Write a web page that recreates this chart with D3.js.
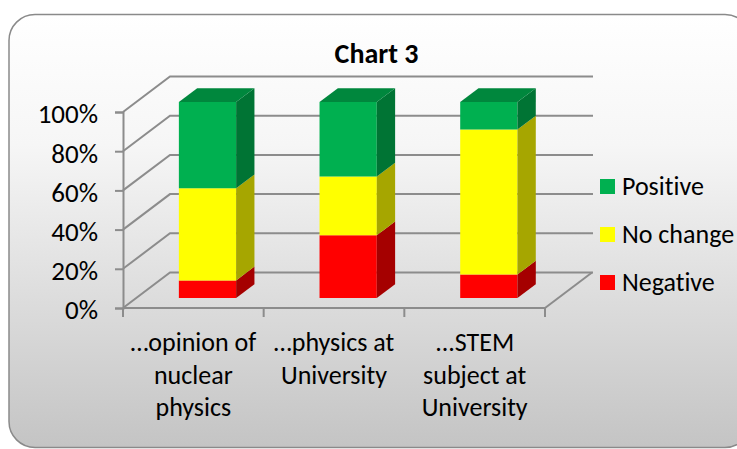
<!DOCTYPE html>
<html><head><meta charset="utf-8">
<script src="https://cdn.jsdelivr.net/npm/d3@7"></script>
<style>
html,body{margin:0;padding:0;background:#fff;}
svg{display:block;}
text{font-family:Carlito,Calibri,Lato,"Open Sans",sans-serif;fill:#000;font-variant-ligatures:none;font-feature-settings:"liga" 0,"clig" 0,"dlig" 0;}
</style></head>
<body><svg id="c" width="737" height="449"></svg>
<script>
const title = "Chart 3";
const categories = [["…opinion of","nuclear","physics"],["…physics at","University"],["...STEM","subject at","University"]];
const seriesNames = ["Negative","No change","Positive"];
const negative = [9, 32, 12];
const noChange = [47, 30, 74];
const positive = [44, 38, 14];
const yTicks = [0, 20, 40, 60, 80, 100];

const frontColors = ["#FF0000","#FFFF00","#00B050"];
const sideColors  = ["#A50000","#A6A600","#007434"];
const topColors   = ["#C00000","#C8C800","#00873D"];

const svg = d3.select("#c");
const defs = svg.append("defs");
const grad = defs.append("linearGradient").attr("id","bg").attr("x1",0).attr("y1",0).attr("x2",0).attr("y2",1);
grad.append("stop").attr("offset","0%").attr("stop-color","#ffffff");
grad.append("stop").attr("offset","30%").attr("stop-color","#f6f6f6");
grad.append("stop").attr("offset","100%").attr("stop-color","#c4c4c4");

svg.append("rect").attr("x",9).attr("y",14.5).attr("width",742).attr("height",433)
  .attr("rx",26).attr("fill","url(#bg)").attr("stroke","#8a8a8a").attr("stroke-width",1.5);

// geometry
const DX = 47, DY = -35.5;
const x = d3.scaleBand().domain(d3.range(categories.length)).range([123,545]).paddingInner(0.593).paddingOuter(0.2965);
const xb = d3.scaleBand().domain(d3.range(categories.length)).range([123,545]);
const y = d3.scaleLinear().domain([0,100]).range([308,112]);
const gridC = "#8c8c8c";

// walls gridlines
const g = svg.append("g");
yTicks.forEach(t => {
  g.append("path").attr("d", `M${123},${y(t)} L${123+DX},${y(t)+DY} L${545+DX+1},${y(t)+DY}`)
    .attr("fill","none").attr("stroke",gridC).attr("stroke-width",2);
});
g.append("path").attr("d",`M545,${y(0)} L${545+DX},${y(0)+DY}`).attr("fill","none").attr("stroke",gridC).attr("stroke-width",2);

// bars
const F1 = 0.28, F2 = 0.67;
const stacks = [negative, noChange, positive];
categories.forEach((c,i) => {
  let base = 0;
  const xl = x(i) + F1*DX + 1, xr = xl + x.bandwidth();
  const sx = (F2-F1)*DX, sy = (F2-F1)*DY;
  stacks.forEach((s,k) => {
    const v0 = base, v1 = base + s[i];
    base = v1;
    const y0 = y(v0) + F1*DY, y1 = y(v1) + F1*DY;
    g.append("path").attr("d",`M${xl},${y0} L${xr},${y0} L${xr},${y1} L${xl},${y1} Z`).attr("fill",frontColors[k]);
    g.append("path").attr("d",`M${xr},${y0} L${xr+sx},${y0+sy} L${xr+sx},${y1+sy} L${xr},${y1} Z`).attr("fill",sideColors[k]);
    if (k === stacks.length-1) {
      g.append("path").attr("d",`M${xl},${y1} L${xr},${y1} L${xr+sx},${y1+sy} L${xl+sx},${y1+sy} Z`).attr("fill",topColors[k]);
    }
  });
});

// y axis
const yAxis = svg.append("g").attr("transform","translate(123,0)")
  .call(d3.axisLeft(y).tickValues(yTicks).tickFormat(d => d + "%").tickSize(8).tickPadding(17));
yAxis.selectAll("path,line").attr("stroke",gridC).attr("stroke-width",2);
yAxis.selectAll("text").attr("font-size",27).attr("dy","0.4em").style("font-family","Carlito,Calibri,Lato,sans-serif").attr("fill","#000");

// x axis
const xAxisG = svg.append("g");
xAxisG.append("line").attr("x1",123).attr("x2",545).attr("y1",y(0)).attr("y2",y(0)).attr("stroke",gridC).attr("stroke-width",2);
[0,1,2,3].forEach(j => {
  const xx = j < 3 ? xb(j) : xb(2)+xb.bandwidth();
  xAxisG.append("line").attr("x1",xx).attr("x2",xx).attr("y1",y(0)).attr("y2",y(0)+9).attr("stroke",gridC).attr("stroke-width",2);
});
categories.forEach((lines,i) => {
  const t = xAxisG.append("text").attr("text-anchor","middle").attr("font-size",26);
  lines.forEach((ln,j) => t.append("tspan").attr("x", xb(i)+xb.bandwidth()/2).attr("y", 351 + j*32.5).text(ln));
});

// title
svg.append("text").attr("x",376.5).attr("y",63).attr("text-anchor","middle").attr("font-size",28).attr("font-weight","bold").text(title);

// legend
const legOrder = [2,1,0];
legOrder.forEach((k,j) => {
  const ly = 179 + j*48;
  svg.append("rect").attr("x",600).attr("y",ly).attr("width",15).attr("height",15).attr("fill",frontColors[k]);
  svg.append("text").attr("x",622).attr("y",ly+16).attr("font-size",26).text(seriesNames[k]);
});
</script></body></html>
